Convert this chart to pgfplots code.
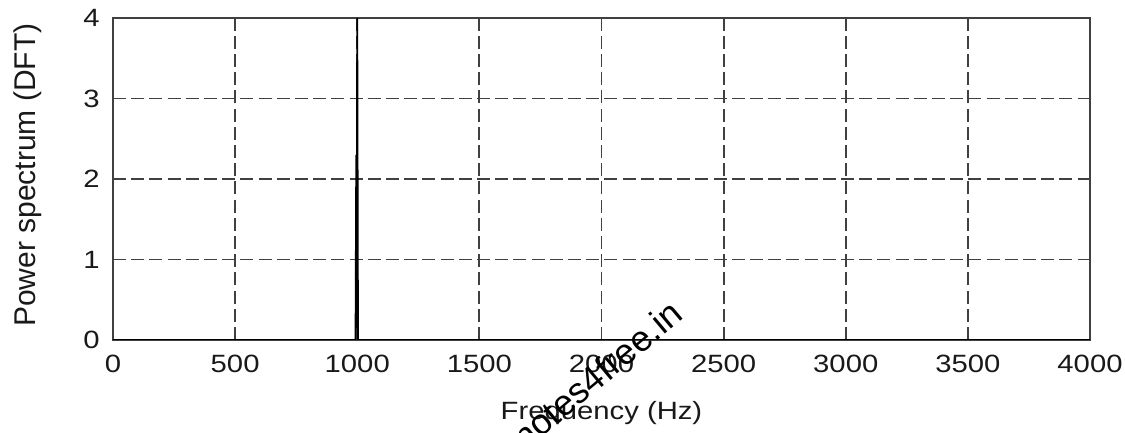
\documentclass[border=0pt]{standalone}
\usepackage{fontspec}
\setmainfont{Liberation Sans}[FakeStretch=1.17]
\newfontfamily\ylfont{Liberation Sans}
\newfontfamily\wmfont{Liberation Sans}
\usepackage{pgfplots}
\pgfplotsset{compat=1.18}

\definecolor{frame}{gray}{0.25}
\definecolor{txt}{gray}{0.1}

% DFT power spectrum of a 1 kHz tone
\pgfplotstableread{
f      P
0      0
993    0
996    2.3
997    0.15
1000   4.0
1003   0
4000   0
}\spectrum

\begin{document}
\begin{tikzpicture}
\begin{axis}[
  name=ax,
  scale only axis,
  width=488.5pt, height=161pt,
  xmin=0, xmax=4000, ymin=0, ymax=4,
  xtick={0,500,...,4000},
  ytick={0,1,2,3,4},
  tick pos=left,
  tick align=inside,
  major tick length=6.5pt,
  every tick/.style={frame, line width=0.9pt},
  axis line style={frame, line width=1.1pt},
  grid=major,
  major grid style={frame, line width=0.9pt, dash pattern=on 6.5pt off 2.6pt},
  /pgf/number format/assume math mode=true,
  /pgf/number format/1000 sep={},
  scaled x ticks=false,
  xticklabel style={font=\fontsize{12.5}{14}\selectfont, text=txt, anchor=north, inner sep=0pt, yshift=-7.5pt},
  yticklabel style={font=\fontsize{12.5}{14}\selectfont, text=txt, anchor=east, inner sep=0pt, xshift=-6.5pt},
  xlabel={Frequency (Hz)},
  ylabel={Power spectrum (DFT)},
  xlabel style={font=\fontsize{12.5}{14}\selectfont, text=txt, at={(axis description cs:0.5,-0.2484)}, anchor=base, inner sep=0pt},
  ylabel style={font=\ylfont\fontsize{15}{17}\selectfont, text=txt, at={(axis description cs:-0.0798,0.512)}, anchor=base, inner sep=0pt},
  clip=true,
]
\addplot[black, line width=0.9pt, line join=miter] table[x=f, y=P] {\spectrum};
\end{axis}
\node[anchor=base west, rotate=40, inner sep=0pt, text=black,
      font=\wmfont\fontsize{18}{20}\selectfont]
  at ([shift={(206pt,-56pt)}]ax.south west) {notes4free.in};
\pgfresetboundingbox
\path[use as bounding box] ([shift={(-56.5pt,-46pt)}]ax.south west) rectangle ([shift={(17.5pt,9pt)}]ax.north east);
\end{tikzpicture}
\end{document}
